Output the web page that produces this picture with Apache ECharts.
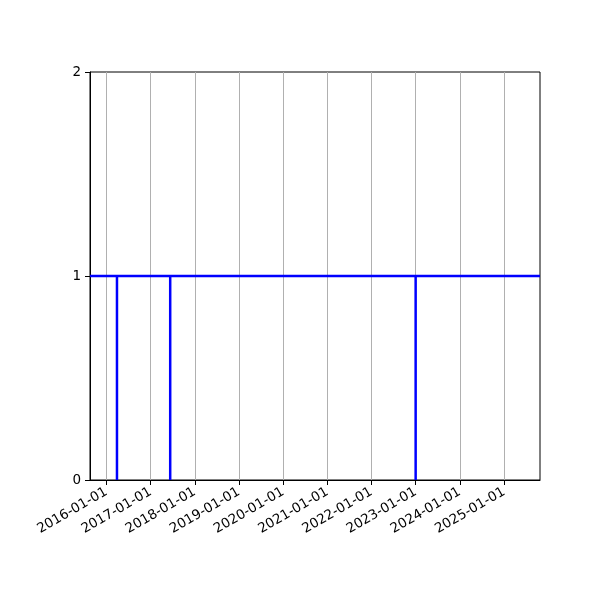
<!DOCTYPE html>
<html>
<head>
<meta charset="utf-8">
<script src="https://cdn.jsdelivr.net/npm/echarts@6/dist/echarts.min.js"></script>
<style>
html,body{margin:0;padding:0;background:#fff;}
#chart{width:600px;height:600px;}
</style>
</head>
<body>
<div id="chart"></div>
<script>
// Data
const rangeStart = '2015-08-19';
const rangeEnd = '2025-10-25';
const dropDates = ['2016-03-29', '2017-06-12', '2023-01-01'];
const baseValue = 1;
const dropValue = 0;
const tickDates = ['2016-01-01','2017-01-01','2018-01-01','2019-01-01','2020-01-01',
                   '2021-01-01','2022-01-01','2023-01-01','2024-01-01','2025-01-01'];
const yTicks = [0, 1, 2];

function ts(s){
  const p = s.split('-').map(Number);
  return Date.UTC(p[0], p[1]-1, p[2]);
}
function fmt(v){
  const d = new Date(v);
  const pad = n => (n < 10 ? '0' : '') + n;
  return d.getUTCFullYear() + '-' + pad(d.getUTCMonth()+1) + '-' + pad(d.getUTCDate());
}

const lineData = [[ts(rangeStart), baseValue]];
dropDates.forEach(d => {
  const t = ts(d);
  lineData.push([t, baseValue], [t, dropValue], [t, baseValue]);
});
lineData.push([ts(rangeEnd), baseValue]);

const tickVals = tickDates.map(ts);

const chart = echarts.init(document.getElementById('chart'), null, {renderer: 'canvas'});
chart.setOption({
  animation: false,
  backgroundColor: '#fff',
  textStyle: {fontFamily: 'DejaVu Sans'},
  grid: {left: 90, right: 60, top: 72, bottom: 120, show: true, borderColor: '#000', borderWidth: 1, backgroundColor: 'transparent'},
  xAxis: {
    type: 'value',
    min: ts(rangeStart),
    max: ts(rangeEnd),
    axisLine: {show: true, onZero: false, lineStyle: {color: '#000', width: 1}},
    axisTick: {show: true, length: 5, customValues: tickVals, lineStyle: {color: '#000'}},
    axisLabel: {
      customValues: tickVals,
      rotate: 30,
      formatter: v => fmt(v),
      color: '#000',
      fontSize: 13.5,
      fontFamily: 'DejaVu Sans',
      margin: 11,
      hideOverlap: false
    },
    splitLine: {show: true, lineStyle: {color: '#b0b0b0', width: 1}}
  },
  yAxis: {
    type: 'value',
    min: yTicks[0],
    max: yTicks[yTicks.length-1],
    interval: 1,
    axisLine: {show: true, lineStyle: {color: '#000', width: 1}},
    axisTick: {show: true, length: 5, lineStyle: {color: '#000'}},
    axisLabel: {color: '#000', fontSize: 13.5, fontFamily: 'DejaVu Sans', margin: 9},
    splitLine: {show: false}
  },
  series: [{
    type: 'line',
    data: lineData,
    showSymbol: false,
    symbol: 'none',
    lineStyle: {color: '#0000ff', width: 2.5},
    clip: true
  }]
});
</script>
</body>
</html>
